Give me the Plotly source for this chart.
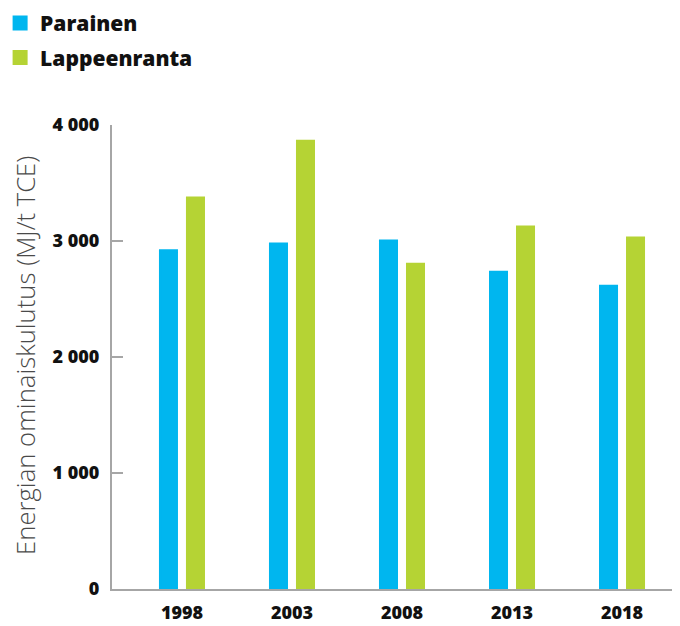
import plotly.graph_objects as go

years = ["1998", "2003", "2008", "2013", "2018"]
parainen = [2915, 2975, 3000, 2730, 2610]
lappeenranta = [3370, 3860, 2800, 3120, 3025]
y_ticks = [0, 1000, 2000, 3000, 4000]
y_tick_labels = ["0", "1 000", "2 000", "3 000", "4 000"]

BLUE = "#00B6EF"
GREEN = "#B5D334"
AXIS = "#A6A6A6"

fig = go.Figure()
fig.add_trace(go.Bar(
    x=years, y=parainen, name="Parainen",
    marker=dict(color=BLUE, line=dict(color=BLUE, width=3)),
    legendgroup="a",
))
fig.add_trace(go.Bar(
    x=years, y=lappeenranta, name="Lappeenranta",
    marker=dict(color=GREEN, line=dict(color=GREEN, width=3)),
    legendgroup="b",
))

# y title as an annotation so it sits where the original has it
fig.add_annotation(
    text="Energian ominaiskulutus (MJ/t TCE)",
    xref="paper", yref="paper", x=-0.1535, y=0.504,
    xanchor="center", yanchor="middle", textangle=-90, showarrow=False,
    font=dict(size=25.7, weight=300, color="#4a4a4a"),
)

fig.update_layout(
    width=680, height=626,
    margin=dict(l=104, r=8, t=117, b=45, autoexpand=False),
    paper_bgcolor="white", plot_bgcolor="white",
    barmode="group", bargap=0.509, bargroupgap=0.407,
    font=dict(family="Open Sans", color="#111111"),
    showlegend=True,
    legend=dict(
        x=-0.197, y=1.263, xanchor="left", yanchor="top",
        orientation="v", tracegroupgap=4,
        font=dict(size=21, weight=800, color="#111111"),
        bgcolor="rgba(0,0,0,0)",
    ),
    xaxis=dict(
        type="category", range=[-0.636, 4.527],
        showline=True, linecolor=AXIS, linewidth=2,
        ticks="", showgrid=False, zeroline=False,
        ticklabelstandoff=6,
        tickfont=dict(size=18, weight=800, color="#111111"),
    ),
    yaxis=dict(
        range=[0, 4000], tickvals=y_ticks, ticktext=y_tick_labels,
        showline=True, linecolor=AXIS, linewidth=2,
        ticks="inside", ticklen=11, tickwidth=2, tickcolor=AXIS,
        showgrid=False, zeroline=False,
        ticklabelstandoff=7,
        tickfont=dict(size=18, weight=800, color="#111111"),
    ),
)

fig.write_html("out.html")
